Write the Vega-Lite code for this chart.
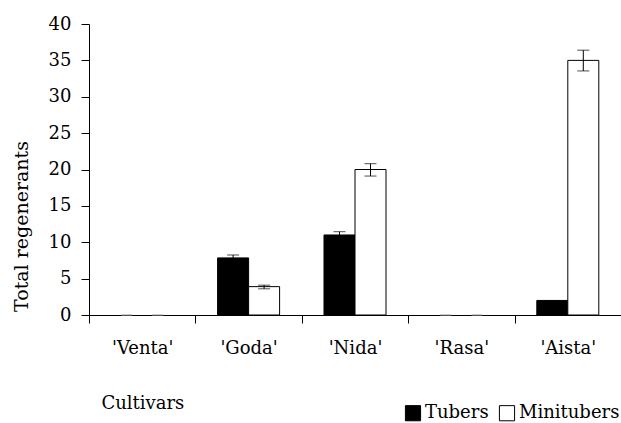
{
  "$schema": "https://vega.github.io/schema/vega-lite/v6.json",
  "autosize": "none",
  "width": 532,
  "height": 291,
  "padding": {"left": 89, "top": 24, "right": 0, "bottom": 108},
  "background": "white",
  "config": {
    "view": {"stroke": null},
    "font": "DejaVu Serif",
    "axis": {"domainColor": "black", "tickColor": "black", "labelColor": "black", "titleColor": "black", "labelFont": "DejaVu Serif", "titleFont": "DejaVu Serif", "titleFontWeight": "normal", "labelFontSize": 18, "titleFontSize": 18, "grid": false, "tickSize": 8, "domainWidth": 1, "tickWidth": 1, "labelOverlap": false},
    "axisY": {"title": "Total regenerants", "values": [0, 5, 10, 15, 20, 25, 30, 35, 40], "labelPadding": 10, "titleX": -62, "titleY": 202, "titleFontSize": 19, "titleBaseline": "alphabetic", "titleAngle": -90, "titleAlign": "center"}
  },
  "data": {
    "values": [
      {"cultivar": "'Venta'", "type": "Tubers", "value": 0},
      {"cultivar": "'Venta'", "type": "Minitubers", "value": 0},
      {"cultivar": "'Goda'", "type": "Tubers", "value": 7.85, "lo": 7.45, "hi": 8.25},
      {"cultivar": "'Goda'", "type": "Minitubers", "value": 3.9, "lo": 3.6, "hi": 4.1},
      {"cultivar": "'Nida'", "type": "Tubers", "value": 11.0, "lo": 10.6, "hi": 11.45},
      {"cultivar": "'Nida'", "type": "Minitubers", "value": 20.0, "lo": 19.1, "hi": 20.8},
      {"cultivar": "'Rasa'", "type": "Tubers", "value": 0},
      {"cultivar": "'Rasa'", "type": "Minitubers", "value": 0},
      {"cultivar": "'Aista'", "type": "Tubers", "value": 2.0},
      {"cultivar": "'Aista'", "type": "Minitubers", "value": 35.0, "lo": 33.55, "hi": 36.4}
    ]
  },
  "encoding": {
    "x": {
      "field": "cultivar", "type": "nominal",
      "sort": ["'Venta'", "'Goda'", "'Nida'", "'Rasa'", "'Aista'"],
      "scale": {"paddingInner": 0, "paddingOuter": 0},
      "axis": {"title": "Cultivars", "labelAngle": 0, "tickBand": "extent", "labelPadding": 16, "titleAnchor": "start", "titleAlign": "left", "titleX": 12, "titleY": 93, "titleBaseline": "alphabetic"}
    },
    "xOffset": {
      "field": "type", "type": "nominal",
      "scale": {"domain": ["Tubers", "Minitubers"], "paddingInner": 0, "paddingOuter": 0.716}
    }
  },
  "layer": [
    {
      "mark": {"type": "bar", "stroke": "black"},
      "encoding": {
        "y": {
          "field": "value", "type": "quantitative",
          "scale": {"domain": [0, 40], "nice": false},
          "title": "Total regenerants"
        },
        "strokeWidth": {"condition": {"test": "datum.value == 0", "value": 0}, "value": 1},
        "fill": {
          "field": "type", "type": "nominal",
          "scale": {"domain": ["Tubers", "Minitubers"], "range": ["black", "white"]},
          "legend": {"title": null, "orient": "none", "legendX": 315, "legendY": 380, "direction": "horizontal", "symbolType": "square", "symbolSize": 230, "symbolStrokeColor": "black", "symbolStrokeWidth": 1, "symbolOpacity": 1, "labelFont": "DejaVu Serif", "labelFontSize": 18, "labelColor": "black", "labelOffset": 3, "columnPadding": 8}
        }
      }
    },
    {
      "transform": [{"filter": "datum.value == 0"}],
      "mark": {"type": "tick", "color": "#999999", "size": 11, "thickness": 1.5, "orient": "horizontal"},
      "encoding": {"y": {"field": "value", "type": "quantitative", "title": "Total regenerants"}}
    },
    {
      "transform": [{"filter": "isValid(datum.lo)"}],
      "mark": {"type": "rule", "color": "black", "strokeWidth": 1},
      "encoding": {"y": {"field": "lo", "type": "quantitative", "title": "Total regenerants"}, "y2": {"field": "hi"}}
    },
    {
      "transform": [{"filter": "isValid(datum.lo)"}],
      "mark": {"type": "tick", "color": "black", "size": 12, "thickness": 1, "orient": "horizontal"},
      "encoding": {"y": {"field": "lo", "type": "quantitative", "title": "Total regenerants"}}
    },
    {
      "transform": [{"filter": "isValid(datum.lo)"}],
      "mark": {"type": "tick", "color": "black", "size": 12, "thickness": 1, "orient": "horizontal"},
      "encoding": {"y": {"field": "hi", "type": "quantitative", "title": "Total regenerants"}}
    }
  ]
}
